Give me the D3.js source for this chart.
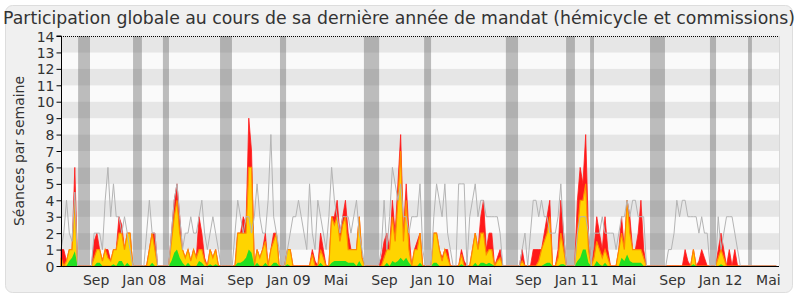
<!DOCTYPE html>
<html>
<head>
<meta charset="utf-8">
<script src="https://d3js.org/d3.v7.min.js"></script>
<style>
    body { margin: 0; background: #fff; }
    text { font-family: "DejaVu Sans", sans-serif; fill: #333; }
</style>
</head>
<body>
<svg id="chart" width="800" height="300"></svg>
<script>

// first monday of the period, one value per week after that
const startWeek = "2007-06-04";
const weekCount = 260;

// séances de présence (total)
const presences = [
    1,1,0.3,1,1,6,0,0,0,0,
    0,0,1.5,2,1,0.3,1,1,0.3,1,
    1,3,2.5,1,2,2,0,0,0,0,
    0,0,1,2,2,0,0,0,0,0,
    2,4,5,3,1,0.5,1,0.3,1,0.5,
    3,2,0.5,0,1,0.5,1,0,0,0,
    0,0,0,0,2,2,3,2.5,9,7,
    0,1,0.5,1,2,0,1,2,2,0,
    0,0,1,1,0,0,0,0,0,0,
    0,1,0.3,0,2,1,0,0,3,3,
    4,2,3,4,2,1,1,1,3,0.5,
    0,0,0,0,0,0,0.5,1.5,2,1,
    4,2,5,8,2,5,2,0,1,1.5,
    2,0,0,0,0,2,2,1,0.5,1,
    1,0,0,0,0,1,0.3,0,0,1,
    2,1,3,4,1,2,2,0,0.5,1,
    0,0,0,0,0,0,0,1,0,0,
    0,1,1,1,1,2,3,4,0,0,
    1,4,2,0,0,0,0,4,6,5,
    8,2,0,1,3,2,1,3,1,0,
    0,0,1,3,1,4,3,1,1,2,
    4,1,0,0,0,0,0,0,0,0,
    0,0,0,0,0,0,1,0.3,0,1,
    0,0.3,1,0.5,0,0,0,0,1,2,
    1,0,1,0,1,0,0,0,0,0,
    0,0,0,0,0,0,0,0,0,0
];

// participations
const participations = [
    0.5,0,0.3,1,1,4,0,0,0,0,
    0,0,0.5,1,1,0.3,1,0.5,0.3,1,
    1,2,2,1,2,2,0,0,0,0,
    0,0,1,2,1,0,0,0,0,0,
    1.5,3,4,2,1,0.5,1,0.3,1,0.5,
    1,1,0.3,0,1,0.5,1,0,0,0,
    0,0,0,0,2,2,2,2,6,6,
    0,1,0.5,1,1.5,0,1,1.5,2,0,
    0,0,1,1,0,0,0,0,0,0,
    0,0.7,0,0,1,0.5,0,0,3,2.5,
    3,1.5,2.5,3,1,1,1,1,3,0.5,
    0,0,0,0,0,0,0,0.5,1,1,
    3,1.5,4,7,1.5,4,1,0,1,1,
    2,0,0,0,0,2,2,1,0.3,1,
    0.5,0,0,0,0,0.7,0,0,0,1,
    2,1,2,2,0.7,1,1,0,0.3,0.5,
    0,0,0,0,0,0,0,0.3,0,0,
    0,0,0,0.3,1,1.5,2,3,0,0,
    0.5,2,1,0,0,0,0,2,4,4,
    5,1,0,0.5,1.5,1,0.5,1,0.5,0,
    0,0,1,2,1,4,2,1,1,1,
    1,0.5,0,0,0,0,0,0,0,0,
    0,0,0,0,0,0,0,0,0,1,
    0,0,0,0,0,0,0,0,0.5,1,
    0.5,0,0,0,0,0,0,0,0,0,
    0,0,0,0,0,0,0,0,0,0
];

// interventions
const interventions = [
    0,0,0,0.3,0.5,0.9,0,0,0,0,
    0,0,0,0.2,0.2,0,0,0,0,0.1,
    0,0.3,0.3,0,0.2,0,0,0,0,0,
    0,0,0,0.2,0,0,0,0,0,0,
    0.3,0.8,1,0.5,0.2,0,0.2,0,0,0,
    0.3,0.2,0,0,0.1,0,0.1,0,0,0,
    0,0,0,0,0.2,0.2,0.3,0.5,1,0.8,
    0,0.2,0,0,0.2,0,0,0.2,0.2,0,
    0,0,0.1,0,0,0,0,0,0,0,
    0,0,0,0,0.2,0,0,0,0.2,0.3,
    0.3,0.3,0.3,0.3,0.2,0.2,0.2,0,0.3,0,
    0,0,0,0,0,0,0,0,0.2,0,
    0.3,0.2,0.3,0.5,0.3,0.5,0.2,0,0,0,
    0.2,0,0,0,0,0.2,0.2,0,0,0,
    0,0,0,0,0,0.1,0,0,0,0,
    0.2,0,0.2,0.2,0.1,0.2,0.1,0,0,0,
    0,0,0,0,0,0,0,0,0,0,
    0,0,0,0,0,0.1,0.2,0.2,0,0,
    0,0.1,0.1,0,0,0,0,0.3,0.5,1,
    1,0.2,0,0,0.3,0.1,0,0.2,0,0,
    0,0,0,0.5,0.3,0.7,0.3,0.2,0.2,0.2,
    0.2,0,0,0,0,0,0,0,0,0,
    0,0,0,0,0,0,0,0,0,0.1,
    0,0,0,0,0,0,0,0,0,0.1,
    0,0,0,0,0,0,0,0,0,0,
    0,0,0,0,0,0,0,0,0,0
];

// médiane des députés
const mediane = [
    1,2,4,2,1.5,4.5,0,0,0,0,
    0,0,2,2,2,1,4,6,3,5,
    3,3,2,3,2,1,0,0,0,0,
    0,2,4,2,2,0,0,0,0,0,
    2,4,5,3,1,2,2,3,2,2,
    3,4,2,1,2,3,2,1,0,0,
    0,0,0,2,4,3,2,3,3,2,
    3,5,3,2,2,4,8,3,2,1,
    0,0,1,2,3,3,4,3,2,1,
    5,2,1,4,3,2,1,3,6,4,
    3,2,3,3,3,2,3,4,2,1,
    0,0,0,0,0,0,1,4,1,3,
    6,5,4,5,3,3,2,3,3,3,
    5,1,0,0,0,3,5,4,3,5,
    2,1,0,0,5,5,5,0,3,4,
    5,3,4,4,3,3,3,3,3,2,
    0,0,0,0,0,0,0,1,2,0,
    2,4,4,3,4,3,3,2,2,2,
    3,5,2,0,0,0,0,2,3,3,
    3,2,0,2,2,2,3,2,2,2,
    2,1,2,3,3,4,3,4,4,3,
    3,3,0,0,0,0,0,0,0,0,
    1,1,2,4,3,4,4,3,3,3,
    3,2,3,2,2,0,0,0,3,1,
    2,3,3,3,2,1,0,0,0,0,
    0,0,0,0,0,0,0,0,0,0
];

// vacances parlementaires, in weeks from startWeek
const vacances = [
    [6.2, 10.5], [26.1, 29.3], [36.9, 39.1], [57.6, 61.9], [79.3, 81.5],
    [109.7, 115.2], [131.5, 134.0], [161.1, 165.5], [182.9, 186.1],
    [191.6, 193.0], [213.3, 218.7], [235.0, 237.2], [248.8, 250.2]
];

const tickDates = [
    "2007-09-01", "2008-01-01", "2008-05-01", "2008-09-01", "2009-01-01",
    "2009-05-01", "2009-09-01", "2010-01-01", "2010-05-01", "2010-09-01",
    "2011-01-01", "2011-05-01", "2011-09-01", "2012-01-01", "2012-05-01"
];
const tickLabels = [
    "Sep", "Jan 08", "Mai", "Sep", "Jan 09", "Mai", "Sep", "Jan 10",
    "Mai", "Sep", "Jan 11", "Mai", "Sep", "Jan 12", "Mai"
];

const yMax = 14;

class ParticipationChart {

    constructor(svgId) {
        this.svg = d3.select(svgId);
        this.left = 61;
        this.right = 779;
        this.top = 36;
        this.bottom = 266;

        let parse = d3.timeParse("%Y-%m-%d");
        this.start = parse(startWeek);
        this.weekDates = d3.range(weekCount).map(i => d3.timeDay.offset(this.start, i * 7));

        this.x = d3.scaleTime()
            .domain([this.start, d3.timeDay.offset(this.start, weekCount * 7)])
            .range([this.left, this.right]);
        this.y = d3.scaleLinear()
            .domain([0, yMax])
            .range([this.bottom, this.top]);
    }

    weekX(w) {
        return this.x(d3.timeHour.offset(this.start, w * 7 * 24));
    }

    drawFrame() {
        let svg = this.svg;
        svg.append("rect")
            .attr("x", 5.5).attr("y", 5.5)
            .attr("width", 787).attr("height", 287)
            .attr("rx", 7)
            .style("fill", "#f0f0f0")
            .style("stroke", "#dddddd");

        svg.append("text")
            .attr("x", 399).attr("y", 24)
            .attr("text-anchor", "middle")
            .style("font-size", "17.3px")
            .text("Participation globale au cours de sa dernière année de mandat (hémicycle et commissions)");

        // horizontal stripes
        let bands = d3.range(yMax);
        svg.append("g").selectAll("rect")
            .data(bands)
            .enter().append("rect")
            .attr("x", this.left)
            .attr("y", d => this.y(d + 1))
            .attr("width", this.right - this.left)
            .attr("height", d => this.y(d) - this.y(d + 1))
            .style("fill", d => d % 2 === 1 ? "#e6e6e6" : "#fafafa");

        // vacances
        svg.append("g").selectAll("rect")
            .data(vacances)
            .enter().append("rect")
            .attr("x", d => this.weekX(d[0]))
            .attr("y", this.top)
            .attr("width", d => this.weekX(d[1]) - this.weekX(d[0]))
            .attr("height", this.bottom - this.top)
            .style("fill", "#606060")
            .style("opacity", 0.4);
    }

    drawSeries() {
        let svg = this.svg;
        let dates = this.weekDates;

        let area = values => d3.area()
            .x((d, i) => this.x(dates[i]))
            .y0(this.bottom)
            .y1(d => this.y(d))(values);

        svg.append("path")
            .attr("d", area(presences))
            .style("fill", "#ff1a1a")
            .style("stroke", "#ff1a1a")
            .style("stroke-width", 0.8);

        svg.append("path")
            .attr("d", area(participations))
            .style("fill", "#ffd400")
            .style("stroke", "#ff8a00")
            .style("stroke-width", 1.2);

        svg.append("path")
            .attr("d", area(interventions))
            .style("fill", "#22e022");

        let line = d3.line()
            .x((d, i) => this.x(dates[i]))
            .y(d => this.y(d));

        svg.append("path")
            .attr("d", line(mediane))
            .style("fill", "none")
            .style("stroke", "#b4b4b4")
            .style("stroke-width", 1);
    }

    drawAxes() {
        let svg = this.svg;

        svg.append("line")
            .attr("x1", this.left).attr("x2", this.right)
            .attr("y1", this.top + 0.5).attr("y2", this.top + 0.5)
            .style("stroke", "#000")
            .style("stroke-dasharray", "1,1");

        svg.append("line")
            .attr("x1", this.right + 0.5).attr("x2", this.right + 0.5)
            .attr("y1", this.top).attr("y2", this.bottom)
            .style("stroke", "#d8d8d8");

        let yAxis = d3.axisLeft(this.y)
            .ticks(yMax)
            .tickSize(5)
            .tickPadding(2)
            .tickFormat(d3.format("d"));

        let gy = svg.append("g")
            .attr("transform", "translate(" + (this.left + 0.5) + ",0)")
            .call(yAxis);
        gy.select(".domain").attr("d", "M-5," + this.top + "H0V" + this.bottom);
        gy.selectAll("text").style("font-size", "14px").style("fill", "#333").attr("font-family", null);
        gy.selectAll(".tick text").attr("dy", "0.36em");

        svg.append("line")
            .attr("x1", this.left).attr("x2", this.right)
            .attr("y1", this.bottom + 0.5).attr("y2", this.bottom + 0.5)
            .style("stroke", "#000");

        let parse = d3.timeParse("%Y-%m-%d");
        svg.append("g").selectAll("text")
            .data(tickDates)
            .enter().append("text")
            .attr("x", d => this.x(parse(d)))
            .attr("y", 285)
            .attr("text-anchor", "middle")
            .style("font-size", "14px")
            .text((d, i) => tickLabels[i]);

        svg.append("text")
            .attr("transform", "translate(24," + ((this.top + this.bottom) / 2) + ") rotate(-90)")
            .attr("text-anchor", "middle")
            .style("font-size", "14px")
            .text("Séances par semaine");
    }

    render() {
        this.drawFrame();
        this.drawSeries();
        this.drawAxes();
    }
}

let chart = new ParticipationChart("#chart");
chart.render();
</script>
</body>
</html>
